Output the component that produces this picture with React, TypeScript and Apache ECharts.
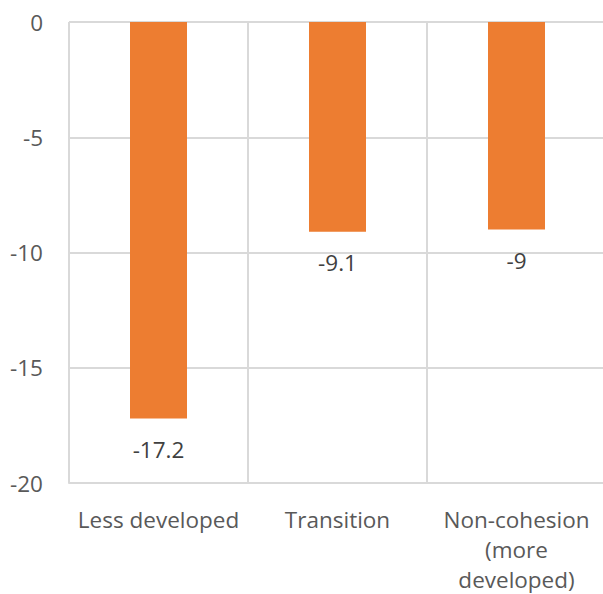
import React, { useEffect, useRef } from "react";
import * as echarts from "echarts";

const categories = ["Less developed", "Transition", "Non-cohesion\n(more\ndeveloped)"];
const values = [-17.2, -9.1, -9];
const yTicks = { min: -20, max: 0, interval: 5 };

export default function App() {
  const ref = useRef<HTMLDivElement>(null);
  useEffect(() => {
    const chart = echarts.init(ref.current!, null, { renderer: "svg" });
    const font = "'Open Sans', 'Noto Sans', sans-serif";
    chart.setOption({
      animation: false,
      backgroundColor: "#ffffff",
      textStyle: { fontFamily: font },
      grid: {
        left: 69,
        right: -3,
        top: 22,
        bottom: 111,
        containLabel: false,
        outerBoundsMode: "none",
      },
      xAxis: {
        type: "category",
        data: categories,
        position: "bottom",
        axisLine: { show: true, onZero: false, lineStyle: { color: "#d9d9d9", width: 2 } },
        axisTick: { show: false },
        splitLine: { show: true, lineStyle: { color: "#d9d9d9", width: 2 } },
        axisLabel: {
          color: "#595959",
          fontSize: 22.5,
          fontFamily: font,
          margin: 21,
          lineHeight: 30,
          interval: 0,
        },
      },
      yAxis: {
        type: "value",
        min: yTicks.min,
        max: yTicks.max,
        interval: yTicks.interval,
        axisLine: { show: false },
        axisTick: { show: false },
        splitLine: { show: true, lineStyle: { color: "#d9d9d9", width: 2 } },
        axisLabel: { color: "#595959", fontSize: 22.5, fontFamily: font, margin: 26 },
      },
      series: [
        {
          type: "bar",
          data: values,
          barWidth: 57,
          itemStyle: { color: "#ED7D31" },
          label: {
            show: true,
            position: "bottom",
            distance: 19.5,
            color: "#404040",
            fontSize: 22.5,
            fontFamily: font,
          },
        },
      ],
    });
    return () => chart.dispose();
  }, []);
  return <div ref={ref} style={{ width: 603, height: 594, position: "absolute", left: 0, top: 0 }} />;
}
